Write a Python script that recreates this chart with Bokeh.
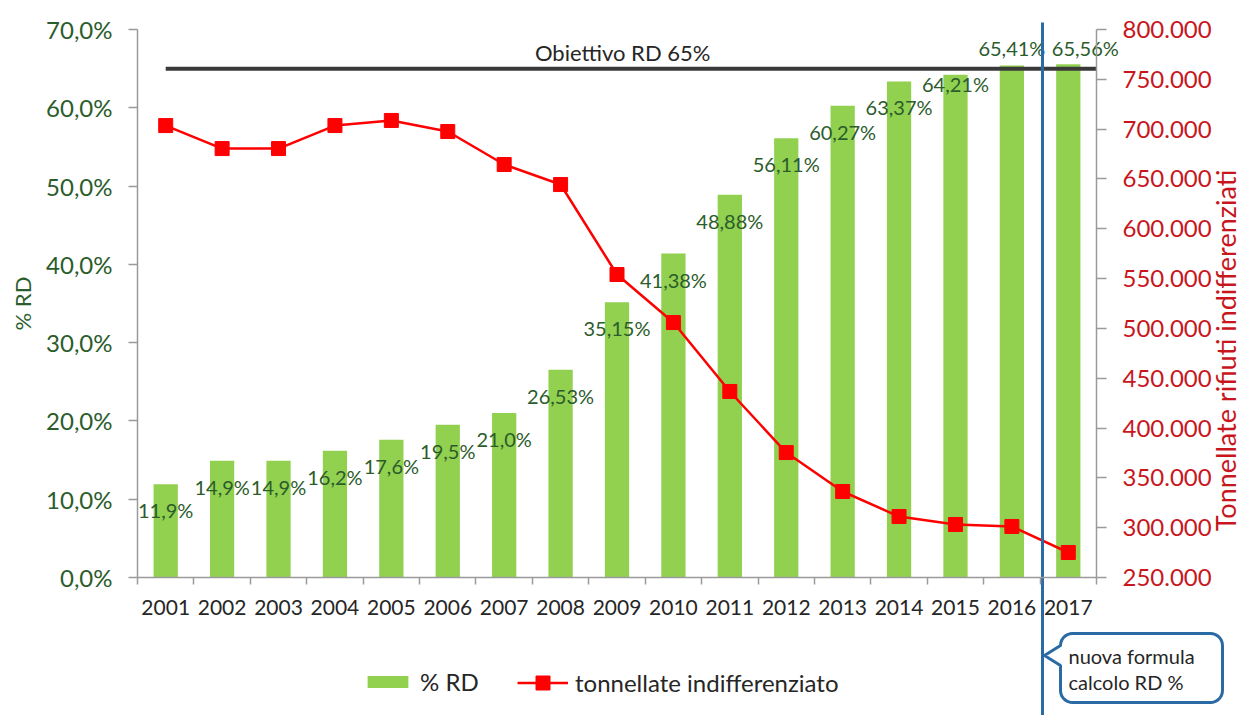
import numpy as np
from bokeh.plotting import figure
from bokeh.models import (Range1d, LinearAxis, FixedTicker, CustomJSTickFormatter, Legend,
                          LegendItem, Label, PolyAnnotation, ColumnDataSource)
from bokeh.core.properties import value
from bokeh.embed import file_html
from bokeh.resources import INLINE

# ---------------- data ----------------
years = [2001, 2002, 2003, 2004, 2005, 2006, 2007, 2008, 2009,
         2010, 2011, 2012, 2013, 2014, 2015, 2016, 2017]
rd_pct = [11.9, 14.9, 14.9, 16.2, 17.6, 19.5, 21.0, 26.53, 35.15,
          41.38, 48.88, 56.11, 60.27, 63.37, 64.21, 65.41, 65.56]
rd_labels = ["11,9%", "14,9%", "14,9%", "16,2%", "17,6%", "19,5%", "21,0%", "26,53%", "35,15%",
             "41,38%", "48,88%", "56,11%", "60,27%", "63,37%", "64,21%", "65,41%", "65,56%"]
tonnes = [703600, 680500, 680500, 703600, 708700, 697600, 664500, 644400, 554100,
          505900, 436700, 375400, 336300, 311200, 303200, 301200, 275100]
left_ticks = [0, 10, 20, 30, 40, 50, 60, 70]
right_ticks = [250000, 300000, 350000, 400000, 450000, 500000, 550000, 600000,
               650000, 700000, 750000, 800000]
target_pct = 65
target_label = "Obiettivo  RD 65%"
callout_lines = ["nuova formula", "calcolo RD %"]
bar_legend = "% RD"
line_legend = "tonnellate indifferenziato"
left_title = "% RD"
right_title = "Tonnellate rifiuti indifferenziati"

# ---------------- styling / layout ----------------
FONT = "Lato"
GREEN_BAR = "#92D050"
GREEN_TXT = "#2B5C2B"
RED = "#FF0000"
RED_TXT = "#C8161D"
DARK = "#262626"
AXIS_GRAY = "#9A9A9A"
BLUE = "#2A6BA5"

W, H = 1245, 715
PL, PR, PT, PB = 137, 1096, 29, 577        # plotting area (px) inside a full-canvas frame
X0, X1 = years[0] - 0.5, years[-1] + 0.5
Y0, Y1 = left_ticks[0], left_ticks[-1]
T0, T1 = right_ticks[0], right_ticks[-1]

sx = (X1 - X0) / (PR - PL)
sy = (Y1 - Y0) / (PB - PT)
st = (T1 - T0) / (PB - PT)


def dx(px):
    return X0 + (px - PL) * sx


def dy(py):
    return Y0 + (PB - py) * sy


p = figure(width=W, height=H,
           x_range=Range1d(dx(0), dx(W)), y_range=Range1d(dy(H), dy(0)),
           output_backend="svg", toolbar_location=None,
           x_axis_location=None, y_axis_location=None,
           min_border_left=0, min_border_right=0, min_border_top=0, min_border_bottom=0)
p.outline_line_color = None
p.grid.visible = False
p.background_fill_color = "white"
p.border_fill_color = "white"
p.extra_y_ranges = {"t": Range1d(T0 - (H - PB) * st, T1 + PT * st)}

# x axis
xa = LinearAxis(fixed_location=Y0, bounds=(X0, X1),
                ticker=FixedTicker(ticks=years, minor_ticks=[y - 0.5 for y in years] + [X1]),
                formatter=CustomJSTickFormatter(code="return tick.toFixed(0);"))
xa.major_tick_line_color = None
xa.major_tick_out = 0
xa.major_tick_in = 0
xa.minor_tick_out = 7
xa.minor_tick_in = 0
xa.minor_tick_line_color = AXIS_GRAY
xa.minor_tick_line_width = 1.5
xa.axis_line_color = AXIS_GRAY
xa.axis_line_width = 1.5
xa.major_label_text_font = FONT
xa.major_label_text_font_size = "21px"
xa.major_label_text_color = DARK
xa.major_label_standoff = 15
p.add_layout(xa, "below")

# left axis
ya = LinearAxis(fixed_location=X0, bounds=(Y0, Y1), ticker=FixedTicker(ticks=left_ticks),
                formatter=CustomJSTickFormatter(code="return tick.toFixed(1).replace('.', ',') + '%';"))
ya.major_tick_out = 9
ya.major_tick_in = 0
ya.minor_tick_line_color = None
ya.major_tick_line_color = AXIS_GRAY
ya.major_tick_line_width = 1.5
ya.axis_line_color = AXIS_GRAY
ya.axis_line_width = 1.5
ya.major_label_text_font = FONT
ya.major_label_text_font_size = "24px"
ya.major_label_text_color = GREEN_TXT
ya.major_label_standoff = 16
ya.axis_label = left_title
ya.axis_label_text_font = FONT
ya.axis_label_text_font_size = "22px"
ya.axis_label_text_font_style = "normal"
ya.axis_label_text_color = GREEN_TXT
ya.axis_label_standoff = 7
p.add_layout(ya, "left")

# right axis
ra = LinearAxis(y_range_name="t", fixed_location=X1, bounds=(T0, T1),
                ticker=FixedTicker(ticks=right_ticks),
                formatter=CustomJSTickFormatter(code="return (tick/1000).toFixed(0) + '.000';"))
ra.major_tick_out = 10
ra.major_tick_in = 0
ra.minor_tick_line_color = None
ra.major_tick_line_color = AXIS_GRAY
ra.major_tick_line_width = 1.5
ra.axis_line_color = AXIS_GRAY
ra.axis_line_width = 1.5
ra.major_label_text_font = FONT
ra.major_label_text_font_size = "24px"
ra.major_label_text_color = RED_TXT
ra.major_label_standoff = 16
p.add_layout(ra, "right")

# bars
src = ColumnDataSource(dict(x=years, rd=rd_pct, lab=rd_labels, t=tonnes,
                            ldy=[26] * 14 + [9, -17, -16], ldx=[0] * 16 + [17]))
bars = p.vbar(x="x", top="rd", width=0.43, source=src, fill_color=GREEN_BAR, line_color=None)

# data labels
p.text(x="x", y="rd", text="lab", source=src, x_offset="ldx", y_offset="ldy",
       text_align="center", text_baseline="middle", text_font=value(FONT),
       text_font_size="20px", text_color=GREEN_TXT)

# target line
p.segment(x0=years[0], y0=target_pct, x1=X1, y1=target_pct, line_color="#3A3A3A", line_width=4)
p.add_layout(Label(x=dx(625), y=dy(52), text=target_label, text_align="center",
                   text_baseline="middle", text_font=FONT, text_font_size="22px",
                   text_color=DARK))

# red line
line_r = p.line(x="x", y="t", source=src, y_range_name="t", line_color=RED, line_width=2.5)
sq_r = p.scatter(x="x", y="t", source=src, y_range_name="t", marker="square", size=14,
                 fill_color=RED, line_color=RED)

# right axis title (reads bottom-to-top)
p.add_layout(Label(x=dx(1225), y=dy(350), text=right_title, angle=np.pi / 2,
                   text_align="center", text_baseline="middle", text_font=FONT,
                   text_font_size="27px", text_color=RED_TXT))

# vertical blue line: new formula
p.segment(x0=dx(1042), y0=dy(22), x1=dx(1042), y1=dy(H + 5), line_color=BLUE, line_width=3)

# callout box
bx0, bx1, by0, by1, r = 1060, 1222, 633, 702, 12
pts = []


def arc(cx, cy, a0, a1):
    for a in np.linspace(a0, a1, 8):
        pts.append((cx + r * np.cos(a), cy + r * np.sin(a)))


pts.append((bx0 + r, by0))
pts.append((bx1 - r, by0))
arc(bx1 - r, by0 + r, -np.pi / 2, 0)
arc(bx1 - r, by1 - r, 0, np.pi / 2)
arc(bx0 + r, by1 - r, np.pi / 2, np.pi)
pts.append((bx0, 665))
pts.append((1044, 655))
pts.append((bx0, 645))
arc(bx0 + r, by0 + r, np.pi, 1.5 * np.pi)
p.add_layout(PolyAnnotation(xs=[dx(a) for a, b in pts], ys=[dy(b) for a, b in pts],
                            fill_color="white", fill_alpha=1, line_color=BLUE, line_alpha=1,
                            line_width=3))
for i, txt in enumerate(callout_lines):
    p.add_layout(Label(x=dx(1068), y=dy(655 + 26 * i), text=txt, text_align="left",
                       text_baseline="middle", text_font=FONT, text_font_size="20px",
                       text_color=DARK))

# legends (two, so each glyph keeps its own size)
common = dict(orientation="horizontal", glyph_width=51, label_standoff=7, padding=0, margin=0,
              spacing=0, border_line_color=None, background_fill_alpha=0,
              label_text_font=FONT, label_text_font_size="24px", label_text_color=DARK)
leg1 = Legend(items=[LegendItem(label=bar_legend, renderers=[bars])], glyph_height=15,
              location=(362, H - 696), **common)
leg2 = Legend(items=[LegendItem(label=line_legend, renderers=[line_r, sq_r])], glyph_height=35,
              location=(517, H - 700), **common)
p.add_layout(leg1, "center")
p.add_layout(leg2, "center")

open("out.html", "w").write(file_html(p, INLINE))
